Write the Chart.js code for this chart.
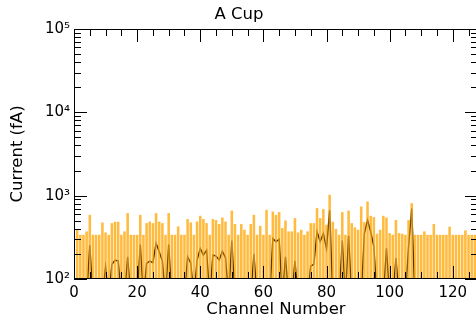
<!DOCTYPE html>
<html>
<head>
<meta charset="utf-8">
<script src="https://cdn.jsdelivr.net/npm/chart.js@4.4.1/dist/chart.umd.min.js"></script>
<style>
  html, body { margin: 0; padding: 0; background: #fff; overflow: hidden; }
  #wrap { width: 478px; height: 326px; position: relative; }
</style>
</head>
<body>
<div id="wrap"><canvas id="c"></canvas></div>
<script>
// Channel numbers 0..127
const channels = Array.from({ length: 128 }, (_, i) => i);

// Orange bars: per-channel level (fA); channel 0 has none
const barLevels = [
  null, 386, 336, 336, 369, 583, 336, 336, 336, 472,
  359, 336, 464, 482, 482, 336, 369, 612, 336, 336,
  336, 583, 336, 464, 485, 464, 612, 485, 464, 336,
  612, 336, 336, 423, 336, 336, 519, 472, 336, 485,
  568, 519, 464, 336, 519, 505, 452, 542, 485, 336,
  657, 452, 336, 452, 386, 336, 452, 583, 336, 431,
  336, 670, 336, 640, 583, 629, 405, 499, 369, 369,
  533, 359, 386, 336, 369, 464, 464, 702, 533, 683,
  443, 1014, 482, 394, 336, 629, 336, 657, 464, 412,
  386, 735, 477, 843, 568, 548, 346, 386, 568, 542,
  352, 336, 505, 352, 346, 336, 505, 806, 336, 336,
  336, 369, 336, 336, 452, 336, 336, 336, 336, 420,
  336, 336, 336, 336, 380, 336, 336, 336
];

// Measured current per channel (fA); values under 100 fall below the axis
const current = [
  60, 60, 60, 60, 60, 255, 60, 60, 60, 60,
  140, 60, 150, 168, 165, 60, 60, 185, 60, 60,
  60, 260, 60, 154, 164, 157, 268, 212, 164, 60,
  260, 60, 60, 60, 60, 60, 185, 155, 60, 169,
  233, 194, 222, 60, 194, 188, 169, 215, 180, 60,
  290, 60, 60, 60, 60, 60, 60, 200, 60, 60,
  60, 60, 60, 307, 280, 300, 60, 185, 60, 60,
  165, 60, 60, 60, 60, 143, 150, 369, 280, 352,
  230, 670, 60, 60, 60, 290, 60, 330, 60, 60,
  60, 60, 352, 509, 369, 244, 60, 60, 60, 233,
  60, 60, 178, 60, 60, 60, 244, 700, 60, 60,
  60, 60, 60, 60, 60, 60, 60, 60, 60, 60,
  60, 60, 60, 60, 60, 60, 60, 60
];

// Axis ticks
const xTickValues = [0, 20, 40, 60, 80, 100, 120];
const xMinorStep = 5;
const yDecades = [100, 1000, 10000, 100000];
const yTickLabels = ['10\u00B2', '10\u00B3', '10\u2074', '10\u2075'];

const FONT = 'DejaVu Sans';

// IDL-style box with inward-pointing major/minor ticks on all four sides
const boxTicks = {
  id: 'boxTicks',
  afterDatasetsDraw(chart) {
    const { ctx, chartArea: a, scales: { x, y } } = chart;
    ctx.save();
    ctx.strokeStyle = '#000';
    ctx.lineWidth = 1;
    ctx.beginPath();
    for (let v = x.min; v <= x.max; v += xMinorStep) {
      const px = Math.round(x.getPixelForValue(v)) + 0.5;
      const len = xTickValues.includes(v) ? 13 : 7;
      ctx.moveTo(px, a.bottom); ctx.lineTo(px, a.bottom - len);
      ctx.moveTo(px, a.top); ctx.lineTo(px, a.top + len);
    }
    yDecades.forEach(d => {
      for (let m = 1; m <= 9; m++) {
        const v = d * m;
        if (v > y.max + 1e-6) break;
        const py = Math.round(y.getPixelForValue(v)) + 0.5;
        const len = m === 1 ? 13 : 7;
        ctx.moveTo(a.left, py); ctx.lineTo(a.left + len, py);
        ctx.moveTo(a.right, py); ctx.lineTo(a.right - len, py);
      }
    });
    ctx.stroke();
    ctx.strokeRect(a.left + 0.5, a.top + 0.5, a.width - 1, a.height - 1);
    ctx.restore();
  }
};

new Chart(document.getElementById('c'), {
  data: {
    datasets: [
      {
        type: 'bar',
        order: 1,
        data: channels.map(i => ({ x: i, y: barLevels[i] })),
        backgroundColor: 'rgba(255, 168, 10, 0.78)',
        borderWidth: 0,
        barThickness: 1.9,
        grouped: false
      },
      {
        type: 'line',
        order: 2,
        data: channels.map(i => ({ x: i, y: current[i] })),
        borderColor: '#000',
        borderWidth: 1.4,
        pointRadius: 0,
        tension: 0,
        fill: false
      }
    ]
  },
  options: {
    responsive: true,
    maintainAspectRatio: false,
    animation: false,
    devicePixelRatio: 1,
    layout: { padding: 0 },
    plugins: {
      legend: { display: false },
      tooltip: { enabled: false },
      title: {
        display: true,
        text: 'A Cup',
        color: '#000',
        font: { family: FONT, size: 16.5, weight: 'normal', lineHeight: '20px' },
        padding: { top: 5, bottom: 4 }
      }
    },
    scales: {
      x: {
        type: 'linear',
        min: 0,
        max: 128,
        offset: false,
        grid: { display: false, drawTicks: false },
        border: { display: false },
        afterBuildTicks: s => { s.ticks = xTickValues.map(v => ({ value: v })); },
        ticks: {
          color: '#000',
          font: { family: FONT, size: 15 },
          padding: 5,
          maxRotation: 0,
          autoSkip: false,
          callback: v => String(v)
        },
        title: {
          display: true,
          text: 'Channel Number',
          color: '#000',
          font: { family: FONT, size: 16.5 },
          padding: { top: 0, bottom: 6 }
        },
        afterFit: s => { s.height = 47; }
      },
      y: {
        type: 'logarithmic',
        min: 100,
        max: 100000,
        grid: { display: false, drawTicks: false },
        border: { display: false },
        afterBuildTicks: s => { s.ticks = yDecades.map(v => ({ value: v })); },
        ticks: {
          color: '#000',
          font: { family: FONT, size: 15 },
          padding: 4,
          autoSkip: false,
          callback: v => yTickLabels[yDecades.indexOf(v)] ?? ''
        },
        title: {
          display: true,
          text: 'Current (fA)',
          color: '#000',
          font: { family: FONT, size: 16.5 },
          padding: { top: 8, bottom: 0 }
        },
        afterFit: s => { s.width = 74; }
      }
    }
  },
  plugins: [boxTicks]
});
</script>
</body>
</html>
